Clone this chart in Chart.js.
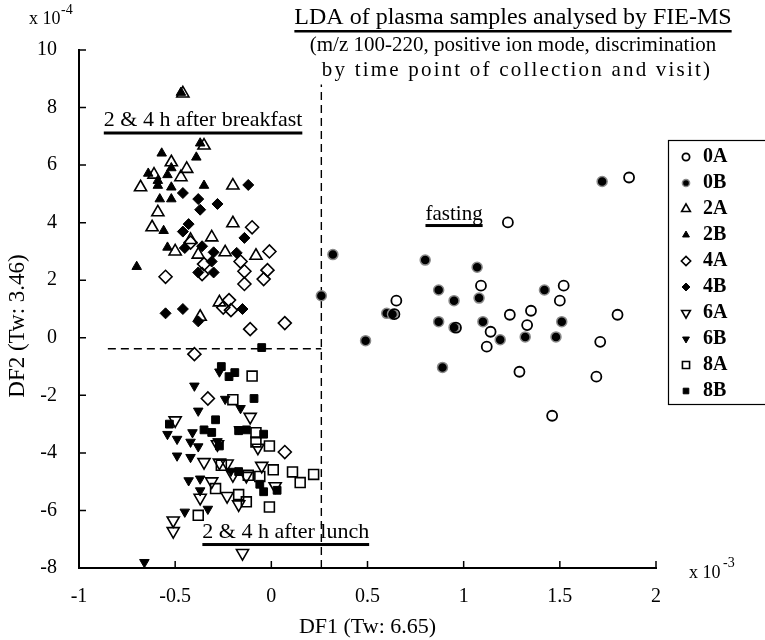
<!DOCTYPE html>
<html>
<head>
<meta charset="utf-8">
<script src="https://cdn.jsdelivr.net/npm/chart.js@4.4.0/dist/chart.umd.min.js"></script>
<style>
  html,body{margin:0;padding:0;background:#fff}
  #wrap{width:765px;height:640px}
</style>
</head>
<body>
<div id="wrap"><canvas id="c" width="765" height="640"></canvas></div>
<script>
/* ===================== data ===================== */
// DF1 in units of 1e-3, DF2 in units of 1e-4
const SERIES  = ['0A','0B','2A','2B','4A','4B','6A','6B','8A','8B'];
const X_TICKS = [-1,-0.5,0,0.5,1,1.5,2];
const Y_TICKS = [-8,-6,-4,-2,0,2,4,6,8,10];

const p0A = [[1.23,4.01],[1.86,5.57],[0.65,1.29],[0.64,0.82],[0.96,0.35],[1.09,1.81],[1.14,0.21],
  [1.12,-0.31],[1.24,0.80],[1.35,0.94],[1.33,0.44],[1.52,1.81],[1.50,1.29],[1.80,0.80],
  [1.71,-0.14],[1.69,-1.35],[1.29,-1.18],[1.46,-2.71]];
const p0B = [[0.32,2.89],[0.80,2.70],[1.07,2.45],[1.72,5.43],[0.26,1.46],[0.60,0.85],[0.63,0.82],
  [0.49,-0.10],[0.87,1.66],[0.95,1.29],[1.08,1.38],[0.87,0.56],[0.95,0.36],[1.10,0.56],
  [1.19,-0.07],[1.32,0.03],[1.42,1.66],[1.51,0.56],[1.48,0.03],[0.89,-1.03]];
const p2A = [[-0.46,8.49],[-0.35,6.68],[-0.52,6.10],[-0.44,5.87],[-0.61,5.67],[-0.47,5.58],
  [-0.68,5.23],[-0.20,5.29],[-0.59,4.36],[-0.62,3.84],[-0.20,3.98],[-0.42,3.40],[-0.31,3.49],
  [-0.50,3.00],[-0.38,2.89],[-0.24,2.97],[-0.08,2.85],[-0.27,1.23],[-0.37,0.73]];
const p2B = [[-0.47,8.52],[-0.37,6.76],[-0.57,6.41],[-0.39,6.27],[-0.52,5.90],[-0.64,5.71],
  [-0.54,5.66],[-0.59,5.46],[-0.59,5.29],[-0.52,5.23],[-0.35,5.29],[-0.58,4.82],[-0.52,4.82],
  [-0.56,3.72],[-0.54,3.14],[-0.70,2.47]];
const p4A = [[-0.10,3.84],[-0.01,3.00],[-0.42,3.31],[-0.35,2.56],[-0.36,2.21],[-0.16,2.65],
  [-0.14,2.31],[-0.02,2.35],[-0.04,2.04],[-0.14,1.87],[-0.55,2.12],[-0.22,1.31],[-0.25,1.05],
  [-0.21,0.96],[-0.11,0.30],[0.07,0.51],[-0.40,-0.57],[-0.33,-2.11],[0.07,-3.97]];
const p4B = [[-0.12,5.31],[-0.46,5.03],[-0.38,4.82],[-0.37,4.45],[-0.28,4.65],[-0.43,3.95],
  [-0.46,3.69],[-0.14,3.47],[-0.45,3.12],[-0.36,3.18],[-0.30,2.97],[-0.18,2.95],[-0.31,2.65],
  [-0.38,2.27],[-0.30,2.27],[-0.55,0.85],[-0.46,1.00],[-0.38,0.57],[-0.15,1.00]];
const p6A = [[-0.50,-2.87],[-0.11,-2.75],[-0.07,-3.82],[-0.28,-3.70],[-0.35,-4.32],[-0.27,-4.34],
  [-0.23,-4.37],[-0.20,-4.77],[-0.05,-4.45],[0.02,-5.16],[-0.31,-4.99],[-0.37,-5.56],
  [-0.23,-5.50],[-0.17,-5.79],[-0.51,-6.35],[-0.51,-6.72],[-0.15,-7.48],[-0.13,-4.80]];
const p6B = [[-0.27,-1.18],[-0.40,-1.67],[-0.24,-2.13],[-0.16,-2.45],[-0.38,-2.54],[-0.54,-3.35],
  [-0.49,-3.52],[-0.41,-3.29],[-0.42,-3.62],[-0.38,-3.78],[-0.28,-3.60],[-0.17,-3.18],
  [-0.49,-4.10],[-0.42,-4.15],[-0.43,-4.96],[-0.37,-4.90],[-0.37,-5.31],[-0.45,-6.05],
  [-0.33,-5.95],[-0.66,-7.80],[-0.21,-4.63]];
const p8A = [[-0.10,-1.33],[-0.20,-2.15],[-0.08,-3.30],[-0.08,-3.62],[-0.01,-3.76],[0.01,-4.59],
  [0.11,-4.66],[0.22,-4.75],[0.15,-5.03],[-0.12,-4.78],[-0.06,-4.82],[-0.29,-5.24],
  [-0.17,-5.45],[-0.13,-5.70],[-0.01,-5.88],[-0.38,-6.17],[-0.26,-4.43]];
const p8B = [[-0.05,-0.34],[-0.26,-1.00],[-0.22,-1.35],[-0.19,-1.21],[-0.09,-2.11],[-0.53,-3.00],
  [-0.29,-2.85],[-0.35,-3.20],[-0.31,-3.29],[-0.17,-3.23],[-0.13,-3.20],[-0.04,-3.35],
  [-0.27,-3.76],[-0.17,-4.65],[-0.06,-5.09],[-0.04,-5.35],[0.03,-5.30]];

// dashed group separators
const divV = [[0.26,-8],[0.26,8.8]];
const divH = [[-0.85,-0.38],[0.26,-0.38]];

/* ===================== styles ===================== */
const SERIF = '"Liberation Serif","Times New Roman",serif';
const OPEN = 'rgba(0,0,0,0)';
const STY = {
  '0A':{pts:p0A, shape:'circle',   rot:0,   r:5,   bg:OPEN,  bc:'#000', bw:1.8},
  '0B':{pts:p0B, shape:'circle',   rot:0,   r:5,   bg:'#000',bc:'#8a8a8a', bw:1.5},
  '2A':{pts:p2A, shape:'triangle', rot:0,   r:7,   bg:OPEN,  bc:'#000', bw:1.6},
  '2B':{pts:p2B, shape:'triangle', rot:0,   r:5.5, bg:'#000',bc:'#000', bw:1},
  '4A':{pts:p4A, shape:'rectRot',  rot:0,   r:6.5, bg:OPEN,  bc:'#000', bw:1.6},
  '4B':{pts:p4B, shape:'rectRot',  rot:0,   r:5.5, bg:'#000',bc:'#000', bw:1},
  '6A':{pts:p6A, shape:'triangle', rot:180, r:7,   bg:OPEN,  bc:'#000', bw:1.6},
  '6B':{pts:p6B, shape:'triangle', rot:180, r:5.5, bg:'#000',bc:'#000', bw:1},
  '8A':{pts:p8A, shape:'rect',     rot:0,   r:7,   bg:OPEN,  bc:'#000', bw:1.6},
  '8B':{pts:p8B, shape:'rect',     rot:0,   r:5.5, bg:'#000',bc:'#000', bw:1}
};
const xy = a => a.map(([x,y])=>({x,y}));

/* ===================== decorations ===================== */
function txt(ctx,s,x,y,font,align){
  ctx.font=font; ctx.textAlign=align||'center'; ctx.textBaseline='middle'; ctx.fillText(s,x,y);
}
function underlined(ctx,s,x,y,font,lw,gap){
  txt(ctx,s,x,y,font,'center');
  const w=ctx.measureText(s).width;
  ctx.fillRect(x-w/2, y+gap, w, lw);
}
function mark(ctx,st,x,y,scale){
  ctx.save();
  ctx.fillStyle=st.bg; ctx.strokeStyle=st.bc; ctx.lineWidth=st.bw;
  Chart.helpers.drawPoint(ctx,{pointStyle:st.shape,radius:st.r*scale,rotation:st.rot,borderWidth:st.bw},x,y);
  ctx.restore();
}

const decor = {
  id:'decor',
  afterDraw(chart){
    const {ctx, scales:{x,y}, chartArea:a} = chart;
    ctx.save();
    ctx.fillStyle='#000'; ctx.strokeStyle='#000';

    // inward ticks
    ctx.lineWidth=1.5;
    ctx.beginPath();
    Y_TICKS.forEach(v=>{const p=y.getPixelForValue(v); ctx.moveTo(a.left,p); ctx.lineTo(a.left+7,p);});
    X_TICKS.forEach(v=>{const p=x.getPixelForValue(v); ctx.moveTo(p,a.bottom); ctx.lineTo(p,a.bottom-7);});
    ctx.stroke();

    // exponents
    txt(ctx,'x 10',29,19,'18px '+SERIF,'left');
    txt(ctx,'-4',61,10,'14px '+SERIF,'left');
    txt(ctx,'x 10',689,573,'18px '+SERIF,'left');
    txt(ctx,'-3',723,563,'14px '+SERIF,'left');

    // y axis title
    ctx.save();
    ctx.translate(18,326); ctx.rotate(-Math.PI/2);
    txt(ctx,'DF2 (Tw: 3.46)',0,0,'23px '+SERIF);
    ctx.restore();

    // title block
    underlined(ctx,'LDA of plasma samples analysed by FIE-MS',513,18,'24px '+SERIF,2.5,12);
    txt(ctx,'(m/z 100-220, positive ion mode, discrimination',513,45,'21px '+SERIF);
    ctx.save();
    if('letterSpacing' in ctx) ctx.letterSpacing='2.2px';
    txt(ctx,'by time point of collection and visit)',517,70,'21px '+SERIF);
    ctx.restore();

    // group labels
    underlined(ctx,'2 & 4 h after breakfast',x.getPixelForValue(-0.355),y.getPixelForValue(7.55),'22px '+SERIF,3,11);
    underlined(ctx,'fasting',x.getPixelForValue(0.95),y.getPixelForValue(4.3),'21px '+SERIF,3,10);
    underlined(ctx,'2 & 4 h after lunch',x.getPixelForValue(0.075),y.getPixelForValue(-6.75),'22px '+SERIF,3,11);

    // legend
    ctx.lineWidth=1.2;
    ctx.strokeRect(668.5,140.5,110,264);
    SERIES.forEach((k,i)=>{
      const yy=157+i*26;
      mark(ctx,STY[k],686,yy,0.72);
      ctx.fillStyle='#000';
      txt(ctx,k,703,yy,'bold 20px '+SERIF,'left');
    });
    ctx.restore();
  }
};

/* ===================== chart ===================== */
const datasets = SERIES.map(k=>{
  const s=STY[k];
  return {
    label:k, data:xy(s.pts), showLine:false,
    pointStyle:s.shape, pointRotation:s.rot, pointRadius:s.r,
    pointBackgroundColor:s.bg, pointBorderColor:s.bc, pointBorderWidth:s.bw,
    backgroundColor:s.bg, borderColor:s.bc
  };
});
[divV,divH].forEach(d=>datasets.push({
  label:'', data:xy(d), showLine:true, pointRadius:0,
  borderColor:'#000', borderWidth:1.4, borderDash:[8,5], fill:false
}));

new Chart(document.getElementById('c'),{
  type:'scatter',
  data:{datasets},
  options:{
    responsive:false, animation:false, events:[],
    layout:{padding:{left:0,right:109,top:50,bottom:0}},
    plugins:{legend:{display:false},tooltip:{enabled:false}},
    scales:{
      x:{
        type:'linear', min:-1, max:2,
        afterBuildTicks:s=>{s.ticks=X_TICKS.map(v=>({value:v}));},
        afterFit:s=>{s.height=72;},
        grid:{display:false,drawTicks:false},
        border:{display:true,color:'#000',width:2},
        ticks:{color:'#000',padding:17,font:{family:SERIF,size:20},callback:v=>String(v)},
        title:{display:true,text:'DF1 (Tw: 6.65)',color:'#000',font:{family:SERIF,size:22},padding:{top:0,bottom:0}}
      },
      y:{
        type:'linear', min:-8, max:10,
        afterBuildTicks:s=>{s.ticks=Y_TICKS.map(v=>({value:v}));},
        afterFit:s=>{s.width=79;},
        grid:{display:false,drawTicks:false},
        border:{display:true,color:'#000',width:2},
        ticks:{color:'#000',padding:22,font:{family:SERIF,size:20},callback:v=>String(v)},
        title:{display:false}
      }
    }
  },
  plugins:[decor]
});
</script>
</body>
</html>
